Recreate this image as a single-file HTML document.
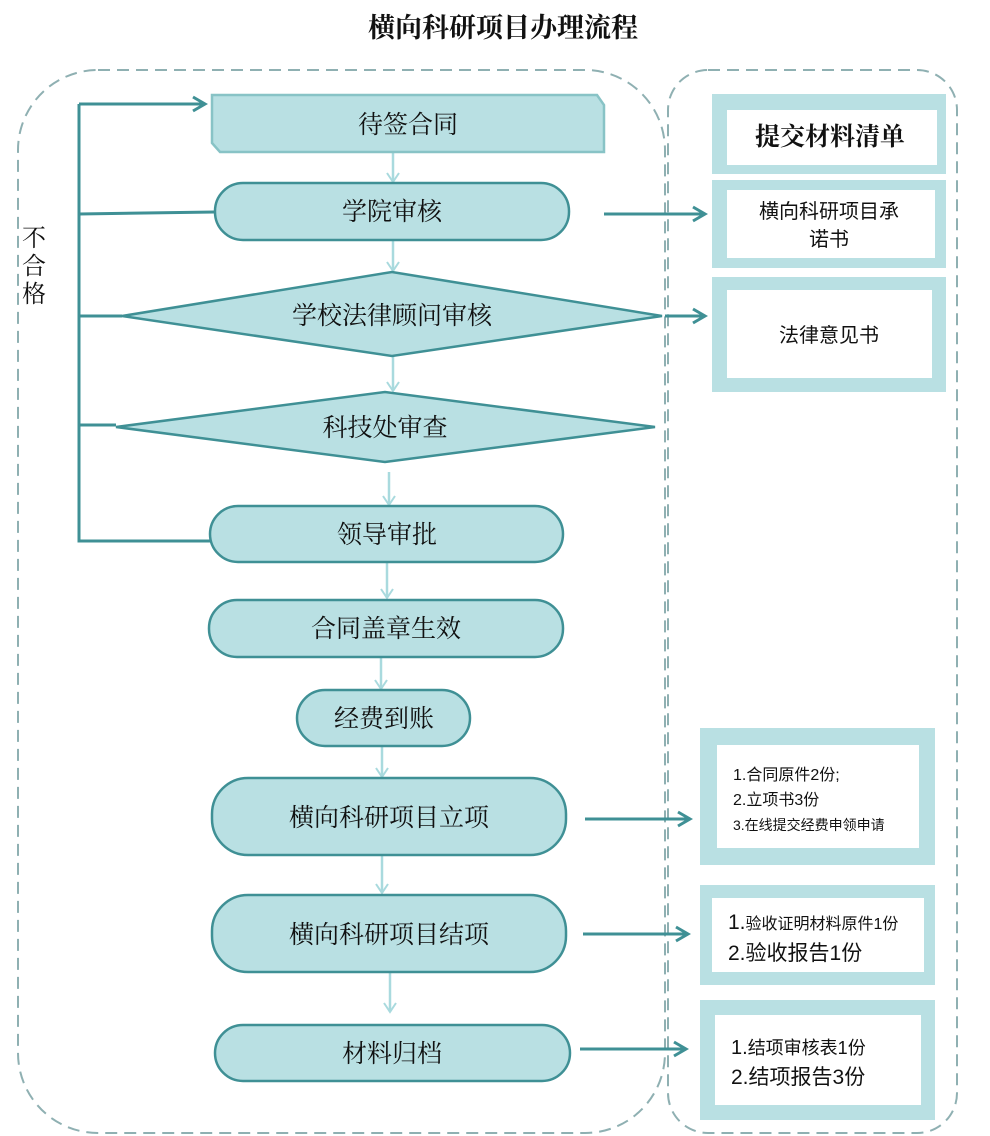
<!DOCTYPE html>
<html><head><meta charset="utf-8"><style>
body{margin:0;background:#fff}
svg{display:block}
.s{font-family:"Liberation Serif","Noto Serif CJK SC",serif;fill:#111}
.a{font-family:"Liberation Sans","Noto Sans CJK SC",sans-serif;fill:#111}
</style></head><body>
<svg width="990" height="1136" viewBox="0 0 990 1136" xmlns="http://www.w3.org/2000/svg">
<defs>
<marker id="lt" markerWidth="14" markerHeight="14" refX="11" refY="7" orient="auto" markerUnits="userSpaceOnUse"><path d="M2,1 L11,7 L2,13" fill="none" stroke="#a9dade" stroke-width="2"/></marker>
<marker id="dk" markerWidth="18" markerHeight="18" refX="15" refY="9" orient="auto" markerUnits="userSpaceOnUse"><path d="M3,2 L15,9 L3,16" fill="none" stroke="#3f9095" stroke-width="3"/></marker>
</defs>
<text x="503" y="37" text-anchor="middle" class="s" font-size="27" font-weight="bold">横向科研项目办理流程</text>
<rect x="18" y="70" width="647" height="1063" rx="80" fill="none" stroke="#8fb0b2" stroke-width="2" stroke-dasharray="12,7"/>
<rect x="668" y="70" width="289" height="1063" rx="40" fill="none" stroke="#8fb0b2" stroke-width="2" stroke-dasharray="12,7"/>
<text class="s" font-size="24" x="22" y="246">不</text>
<text class="s" font-size="24" x="22" y="274">合</text>
<text class="s" font-size="24" x="22" y="302">格</text>
<g stroke="#3f9095" stroke-width="3" fill="none">
<path d="M79,104 V541 H210"/>
<path d="M79,104 H205" marker-end="url(#dk)"/>
<path d="M79,214 L215,212"/>
<path d="M79,316 H122"/>
<path d="M79,425 H116"/>
<path d="M604,214 H705" marker-end="url(#dk)"/>
<path d="M665,316 H705" marker-end="url(#dk)"/>
<path d="M585,819 H690" marker-end="url(#dk)"/>
<path d="M583,934 H688" marker-end="url(#dk)"/>
<path d="M580,1049 H686" marker-end="url(#dk)"/>
</g>
<g stroke="#a9dade" stroke-width="2.5" fill="none">
<path d="M393,152 V182" marker-end="url(#lt)"/>
<path d="M393,240 V271" marker-end="url(#lt)"/>
<path d="M393,356 V391" marker-end="url(#lt)"/>
<path d="M389,472 V505" marker-end="url(#lt)"/>
<path d="M387,562 V598" marker-end="url(#lt)"/>
<path d="M381,657 V689" marker-end="url(#lt)"/>
<path d="M382,746 V777" marker-end="url(#lt)"/>
<path d="M382,855 V893" marker-end="url(#lt)"/>
<path d="M390,972 V1012" marker-end="url(#lt)"/>
</g>
<g fill="#b9e0e3" stroke="#3f9095" stroke-width="2.5">
<polygon points="212,95 597,95 604,105 604,152 220,152 212,143" stroke="#88c3c6"/>
<rect x="215" y="183" width="354" height="57" rx="28"/>
<polygon points="122,316 392,272 662,316 392,356"/>
<polygon points="116,427 385,392 655,427 385,462"/>
<rect x="210" y="506" width="353" height="56" rx="28"/>
<rect x="209" y="600" width="354" height="57" rx="28"/>
<rect x="297" y="690" width="173" height="56" rx="28"/>
<rect x="212" y="778" width="354" height="77" rx="36"/>
<rect x="212" y="895" width="354" height="77" rx="36"/>
<rect x="215" y="1025" width="355" height="56" rx="28"/>
</g>
<g class="s" font-size="25" text-anchor="middle">
<text x="408" y="133">待签合同</text>
<text x="392" y="220">学院审核</text>
<text x="392" y="324">学校法律顾问审核</text>
<text x="385" y="436">科技处审查</text>
<text x="387" y="543">领导审批</text>
<text x="386" y="637">合同盖章生效</text>
<text x="384" y="727">经费到账</text>
<text x="389" y="826">横向科研项目立项</text>
<text x="389" y="943">横向科研项目结项</text>
<text x="392" y="1062">材料归档</text>
</g>
<g fill="#b9e0e3">
<rect x="712" y="94" width="234" height="80"/>
<rect x="712" y="180" width="234" height="88"/>
<rect x="712" y="277" width="234" height="115"/>
<rect x="700" y="728" width="235" height="137"/>
<rect x="700" y="885" width="235" height="100"/>
<rect x="700" y="1000" width="235" height="120"/>
</g>
<g fill="#fff">
<rect x="727" y="110" width="210" height="55"/>
<rect x="727" y="190" width="208" height="68"/>
<rect x="727" y="290" width="205" height="88"/>
<rect x="717" y="745" width="202" height="103"/>
<rect x="712" y="898" width="212" height="74"/>
<rect x="715" y="1015" width="206" height="90"/>
</g>
<text x="830" y="145" text-anchor="middle" class="s" font-size="25" font-weight="bold">提交材料清单</text>
<text x="829" y="218" text-anchor="middle" class="a" font-size="20">横向科研项目承</text>
<text x="829" y="246" text-anchor="middle" class="a" font-size="20">诺书</text>
<text x="829" y="342" text-anchor="middle" class="a" font-size="20">法律意见书</text>
<g class="a">
<text x="733" y="780" font-size="16">1.合同原件2份;</text>
<text x="733" y="805" font-size="16">2.立项书3份</text>
<text x="733" y="830" font-size="14">3.在线提交经费申领申请</text>
<text x="728" y="929" font-size="16"><tspan font-size="21">1.</tspan>验收证明材料原件1份</text>
<text x="728" y="960" font-size="21">2.验收报告1份</text>
<text x="731" y="1054" font-size="18"><tspan font-size="20">1.</tspan>结项审核表1份</text>
<text x="731" y="1084" font-size="21">2.结项报告3份</text>
</g>
</svg>
</body></html>
